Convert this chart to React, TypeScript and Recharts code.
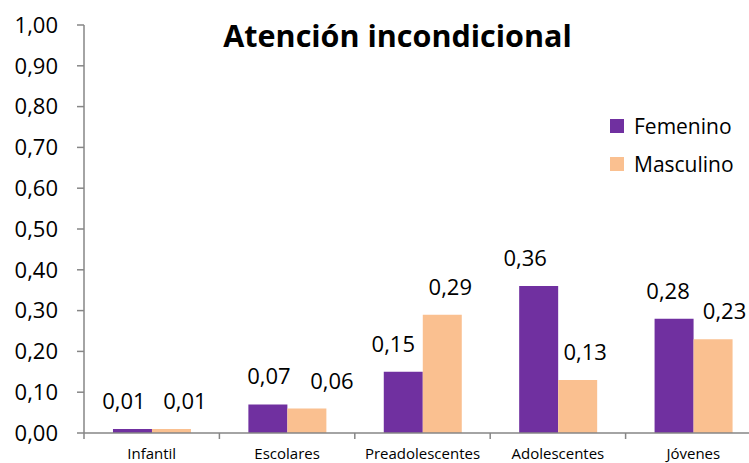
import { BarChart, Bar, XAxis, YAxis, LabelList } from "recharts";

const categories = ["Infantil", "Escolares", "Preadolescentes", "Adolescentes", "Jóvenes"];
const femenino = [0.01, 0.07, 0.15, 0.36, 0.28];
const masculino = [0.01, 0.06, 0.29, 0.13, 0.23];
const yTicks = [0, 0.1, 0.2, 0.3, 0.4, 0.5, 0.6, 0.7, 0.8, 0.9, 1.0];

// horizontal nudges for the value labels so neighbours don't collide
const femLabelDx = [-8.5, 1, -10, -13.5, -6];
const mascLabelDx = [13.5, 25, 8, 7.5, 11.5];

const data = categories.map((name, i) => ({
  name,
  Femenino: femenino[i],
  Masculino: masculino[i],
}));

const PURPLE = "#7030A0";
const PEACH = "#FAC090";
const AXIS = "#868686";
const FONT = "'Open Sans', Lato, sans-serif";

const CHART_W = 761;
const CHART_H = 463;
const Y_AXIS_W = 84;
const BAND = (CHART_W - Y_AXIS_W) / categories.length;

const fmt = (v: number) => v.toFixed(2).replace(".", ",");

// category label with a tick mark on the left edge of its band
function CategoryTick(props: any) {
  const { x, y, payload } = props;
  const left = x - BAND / 2;
  return (
    <g>
      <line x1={left} x2={left} y1={y} y2={y + 6} stroke={AXIS} strokeWidth={1.5} />
      <text
        x={x}
        y={y + 25.5}
        textAnchor="middle"
        fontFamily={FONT}
        fontSize={15}
        fill="#000"
      >
        {payload.value}
      </text>
    </g>
  );
}

function makeValueLabel(nudges: number[]) {
  return function ValueLabel(props: any) {
    const { x, y, width, value, index } = props;
    return (
      <text
        x={x + width / 2 + nudges[index]}
        y={y - 20}
        textAnchor="middle"
        fontFamily={FONT}
        fontSize={22}
        fill="#000"
      >
        {fmt(Number(value))}
      </text>
    );
  };
}

const FemLabel = makeValueLabel(femLabelDx);
const MascLabel = makeValueLabel(mascLabelDx);

const legendItems = [
  { label: "Femenino", color: PURPLE },
  { label: "Masculino", color: PEACH },
];

function Overlay() {
  return (
    <svg
      width={749}
      height={463}
      style={{ position: "absolute", left: 0, top: 0, zIndex: 1, pointerEvents: "none" }}
    >
      <text
        x={397.5}
        y={47}
        textAnchor="middle"
        fontFamily={FONT}
        fontWeight={700}
        fontSize={30.5}
        fill="#000"
      >
        Atención incondicional
      </text>
      {legendItems.map((it, i) => (
        <g key={it.label} transform={`translate(610, ${119 + i * 38})`}>
          <rect width={14} height={14} fill={it.color} />
          <text x={24} y={15} fontFamily={FONT} fontSize={21} fill="#000">
            {it.label}
          </text>
        </g>
      ))}
    </svg>
  );
}

export default function App() {
  return (
    <div
      style={{
        position: "absolute",
        left: 0,
        top: 0,
        width: 749,
        height: 463,
        overflow: "hidden",
        background: "#fff",
      }}
    >
      <Overlay />
      <BarChart
        width={CHART_W}
        height={CHART_H}
        data={data}
        margin={{ top: 25, right: 0, bottom: 0, left: 0 }}
        barCategoryGap="21.4%"
        barGap={0}
      >
        <XAxis
          dataKey="name"
          height={30}
          axisLine={{ stroke: AXIS, strokeWidth: 1.5 }}
          tickLine={false}
          tickSize={0}
          tickMargin={0}
          interval={0}
          tick={<CategoryTick />}
        />
        <YAxis
          width={Y_AXIS_W}
          domain={[0, 1]}
          ticks={yTicks}
          interval={0}
          tickFormatter={fmt}
          axisLine={{ stroke: AXIS, strokeWidth: 1.5 }}
          tickLine={{ stroke: AXIS, strokeWidth: 1.5 }}
          tickSize={7}
          tickMargin={19}
          tick={{ fontFamily: FONT, fontSize: 22, fill: "#000" }}
        />
        <Bar dataKey="Femenino" fill={PURPLE} isAnimationActive={false}>
          <LabelList dataKey="Femenino" content={<FemLabel />} />
        </Bar>
        <Bar dataKey="Masculino" fill={PEACH} isAnimationActive={false}>
          <LabelList dataKey="Masculino" content={<MascLabel />} />
        </Bar>
      </BarChart>
    </div>
  );
}
